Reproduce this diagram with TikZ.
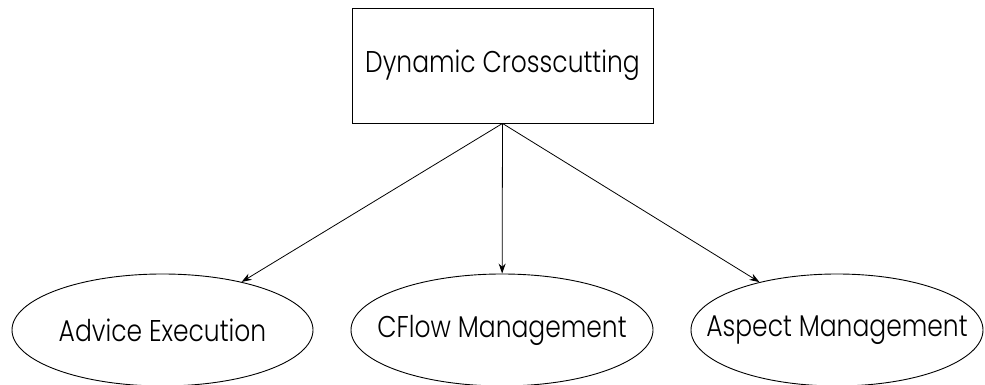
\documentclass[tikz,border=0pt]{standalone}
\usepackage{fontspec}
\IfFontExistsTF{Poppins Light}{\setmainfont{Poppins Light}}{\setmainfont{Poppins}}
\usetikzlibrary{shapes.geometric,arrows.meta}
\newcommand{\lbl}[1]{\makebox[0pt]{\scalebox{1}[1.2]{#1}}}
\begin{document}
\begin{tikzpicture}[x=1pt,y=1pt,
  every node/.style={font=\fontsize{25}{28}\selectfont},
  topbox/.style={draw,line width=0.9pt,minimum width=301pt,minimum height=115pt,inner sep=0pt},
  oval/.style={draw,ellipse,line width=0.9pt,minimum height=112pt,inner sep=0pt},
  link/.style={line width=0.8pt,-{Stealth[length=10pt,width=7pt]}}]
\useasboundingbox (0,0) rectangle (985,385);
\node[topbox] (dc) at (502.5,319.5) {\lbl{Dynamic Crosscutting}};
\node[oval,minimum width=301pt] (ae) at (162.5,55) {\lbl{Advice Execution}};
\node[oval,minimum width=302pt] (cf) at (502,55) {\lbl{CFlow Management}};
\node[oval,minimum width=292pt] (am) at (837,55) {\lbl{Aspect Management}};
\draw[link] (dc.south) -- (ae);
\draw[link] (dc.south) -- (cf);
\draw[link] (dc.south) -- (am);
\end{tikzpicture}
\end{document}
